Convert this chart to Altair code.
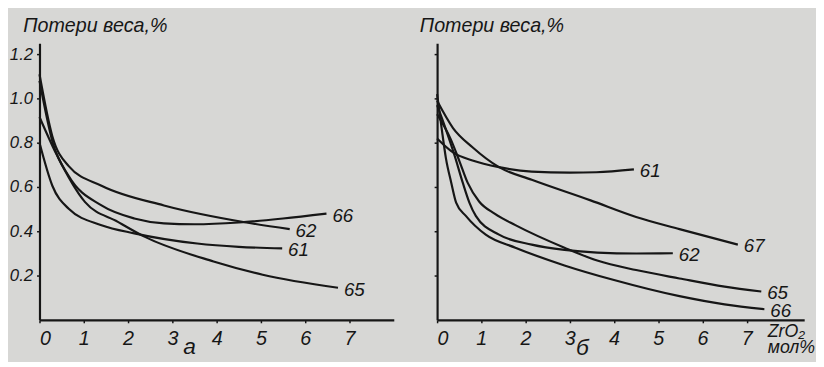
import altair as alt
import pandas as pd

# ---------------- data: panel а ----------------
a_62_x = [0, 0.29, 0.66, 1.4, 2.81, 4.67, 5.65]
a_62_y = [1.11, 0.83, 0.695, 0.606, 0.517, 0.44, 0.41]
a_66_x = [0, 0.3, 0.66, 1.4, 2.14, 2.81, 3.5, 4.5, 5.5, 6.48]
a_66_y = [1.08, 0.80, 0.65, 0.517, 0.458, 0.436, 0.432, 0.44, 0.458, 0.48]
a_65_x = [0, 0.37, 1.03, 1.77, 2.37, 3.93, 5.04, 6.74]
a_65_y = [0.917, 0.754, 0.532, 0.443, 0.376, 0.264, 0.204, 0.145]
a_61_x = [0, 0.29, 0.66, 1.4, 2.14, 3.56, 4.5, 5.48]
a_61_y = [0.80, 0.606, 0.502, 0.428, 0.391, 0.345, 0.33, 0.323]

# ---------------- data: panel б ----------------
b_61_x = [0, 0.36, 0.8, 1.4, 2.14, 3.0, 3.6, 4.45]
b_61_y = [0.82, 0.757, 0.72, 0.69, 0.67, 0.665, 0.667, 0.68]
b_67_x = [0, 0.36, 0.8, 1.4, 2.14, 3.47, 4.5, 5.48, 6.8]
b_67_y = [0.99, 0.867, 0.78, 0.69, 0.633, 0.54, 0.465, 0.41, 0.34]
b_65_x = [0, 0.3, 0.5, 0.69, 0.95, 1.3, 1.77, 2.88, 3.62, 4.5, 5.48, 6.5, 7.33]
b_65_y = [0.93, 0.82, 0.72, 0.62, 0.535, 0.48, 0.428, 0.326, 0.268, 0.225, 0.187, 0.15, 0.128]
b_62_x = [0, 0.2, 0.4, 0.58, 0.73, 0.875, 1.4, 2.14, 2.88, 3.62, 4.5, 5.33]
b_62_y = [0.97, 0.86, 0.74, 0.62, 0.53, 0.47, 0.385, 0.34, 0.316, 0.304, 0.30, 0.301]
b_66_x = [0, 0.1, 0.2, 0.32, 0.43, 0.65, 1.1, 1.77, 2.88, 4.0, 5.48, 6.5, 7.4]
b_66_y = [1.02, 0.87, 0.73, 0.62, 0.53, 0.47, 0.385, 0.326, 0.246, 0.18, 0.107, 0.07, 0.048]

x_ticks_a = [0, 1, 2, 3, 4, 5, 6, 7]
x_ticks_b = [0, 1, 2, 3, 4, 5, 6, 7]
y_ticks = [0.2, 0.4, 0.6, 0.8, 1.0, 1.2]
y_title = "Потери веса,%"
unit_lines = ["ZrO₂", "мол%"]


def build(series):
    rows, ends = [], []
    for name, xs, ys in series:
        for i, (x, y) in enumerate(zip(xs, ys)):
            rows.append({"curve": name, "i": i, "x": x, "y": y})
        ends.append({"curve": name, "x": xs[-1], "y": ys[-1]})
    return pd.DataFrame(rows), pd.DataFrame(ends)


df_a, end_a = build([("62", a_62_x, a_62_y), ("66", a_66_x, a_66_y),
                     ("65", a_65_x, a_65_y), ("61", a_61_x, a_61_y)])
df_b, end_b = build([("61", b_61_x, b_61_y), ("67", b_67_x, b_67_y),
                     ("65", b_65_x, b_65_y), ("62", b_62_x, b_62_y),
                     ("66", b_66_x, b_66_y)])

FONT = "Liberation Sans"
INK = "#161616"
H = 281


def panel(df, ends, xmax, width, xticks, panel_letter, letter_x, letter_y,
          show_ylabels, ytitle_x):
    xs = alt.Scale(domain=[0, xmax], nice=False, zero=True)
    ys = alt.Scale(domain=[0, 1.25], nice=False)
    x_axis = alt.Axis(values=xticks, format="d", tickSize=3, tickWidth=1.5,
                      tickColor=INK, domainColor=INK, domainWidth=2.2,
                      labelFont=FONT, labelFontSize=20, labelFontStyle="italic",
                      labelColor=INK, labelPadding=6, grid=False,
                      title=panel_letter, titleFont=FONT, titleFontSize=23,
                      titleFontStyle="italic", titleFontWeight="normal",
                      titleColor=INK, titleX=letter_x, titleY=letter_y,
                      titleAlign="center", titleBaseline="alphabetic")
    y_axis = alt.Axis(values=y_ticks, format=".1f", tickSize=3, tickWidth=1.5,
                      tickColor=INK, domainColor=INK, domainWidth=2.2,
                      labels=show_ylabels, labelFont=FONT, labelFontSize=17,
                      labelFontStyle="italic", labelColor=INK, labelPadding=4,
                      grid=False, title=y_title, titleAngle=0,
                      titleX=ytitle_x, titleY=-12, titleAlign="left",
                      titleBaseline="alphabetic", titleFont=FONT,
                      titleFontSize=20, titleFontStyle="italic",
                      titleFontWeight="normal", titleColor=INK)
    lines = alt.Chart(df).mark_line(color=INK, strokeWidth=2.2,
                                    interpolate="monotone").encode(
        x=alt.X("x:Q", scale=xs, axis=x_axis),
        y=alt.Y("y:Q", scale=ys, axis=y_axis),
        detail="curve:N",
        order="i:Q",
    )
    labels = alt.Chart(ends).mark_text(
        align="left", baseline="middle", dx=6, dy=2, font=FONT, fontSize=19,
        fontStyle="italic", color=INK,
    ).encode(x=alt.X("x:Q", scale=xs), y=alt.Y("y:Q", scale=ys), text="curve:N")
    return [lines, labels]


left = alt.layer(*panel(df_a, end_a, 8.0, 360, x_ticks_a, "а", 152, 34, True, -17)
                 ).properties(width=360, height=H)

unit_layers = []
for k, t in enumerate(unit_lines):
    unit_layers.append(
        alt.Chart(pd.DataFrame({"t": [t]})).mark_text(
            align="left", baseline="alphabetic", font=FONT, fontSize=18,
            fontStyle="italic", color=INK,
        ).encode(x=alt.value(336), y=alt.value(298 + 17 * k), text="t:N")
    )
right = alt.layer(*panel(df_b, end_b, 8.3, 373, x_ticks_b, "б", 147, 35, False, -18),
                  *unit_layers).properties(width=373, height=H)

chart = alt.hconcat(left, right, spacing=26).properties(
    padding={"left": 1, "top": 5, "right": 0, "bottom": 0},
    background="#d7d7d5",
).configure_view(stroke=None)

chart.save("out.html", embed_options={"renderer": "svg", "actions": False})
